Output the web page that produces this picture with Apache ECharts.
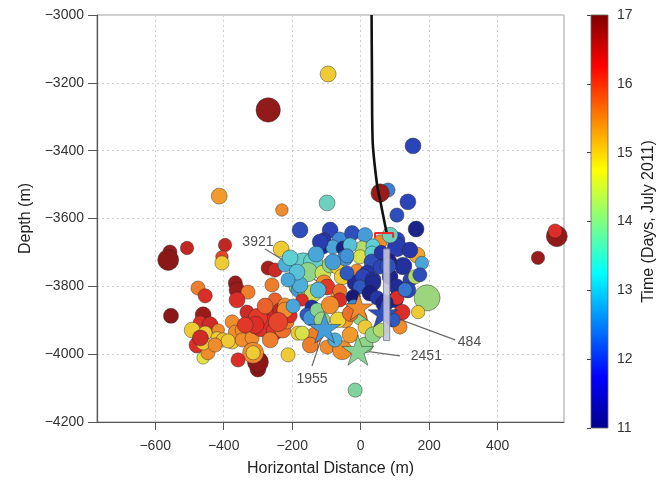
<!DOCTYPE html>
<html>
<head>
<meta charset="utf-8">
<script src="https://cdn.jsdelivr.net/npm/echarts@6/dist/echarts.min.js"></script>
<style>
  html, body { margin: 0; padding: 0; background: #ffffff; }
  #chart { width: 671px; height: 483px; }
</style>
</head>
<body>
<div id="chart"></div>
<script>
// Microseismic events: horizontal distance (m), depth (m), time (day of July 2011), relative magnitude
const eventX = [
  -270, -95, 153, -413, 80, 57, -98, 138, 106, 162, 573, 568, 518, -177, -230, -232, -16,
  -557, -562, -507, -396, -405, -405, -475, -454, -554, -460, -469, -440, -478, -460, -446,
  -492, -454, -460, -416, -419, -402, -375, -375, -366, -387, -468, -425,
  -366, -361, -329, -361, -332, -270, -250, -259, -250, -259, -346, -346, -317, -288, -250,
  -227, -215, -206, -300, -300, -314, -314, -358, -212, -300, -279, -236, -221,
  -308, -264, -221, -337, -241,
  -168, -139, -221, -192, -154, -110, -89, -69, -186, -183, -162, -139, -171, -197, -142,
  -157, -145, -127, -107, -98, -54, -66, -61, -61, -45, -133, -183, -171, -98, -54, -11,
  -206, -177, -124, -186, -212,
  -89, -66, -113, -31, -75, -147, 13,
  -89, -107, -61, -25, 13, 57, 106, -110, -81, -51, 4, 36, 106, 124, 144, 165, 179, 159, 194,
  -2, 33, -118, -45, 80, 138, 101, -16, 33, -81, -31, 86, 173, 144,
  19, 7, 36, 57, 86, 106, -40, -2, 36, 27, -22, 48, 106, 121, 168, 115, -2, 13, 36, 57, 95,
  -130, -40, 60, 80, 130, 70, -20, -30
];
const eventDepth = [
  -3280, -3174, -3386, -3534, -3516, -3525, -3554, -3551, -3590, -3631, -3652, -3637, -3716, -3634, -3575, -3690, -4106,
  -3699, -3722, -3687, -3678, -3713, -3731, -3805, -3828, -3887, -3884, -3908, -3913, -3973, -4011, -3996,
  -3929, -3938, -3967, -3929, -3952, -3958, -3964, -3905, -3935, -3961, -3952, -3973,
  -3790, -3811, -3817, -3840, -3876, -3746, -3752, -3796, -3840, -3890, -3929, -3958, -3952, -3913, -3932,
  -3929, -3905, -3887, -4044, -4023, -3996, -3996, -4017, -4002, -3893, -3858, -3870, -3855,
  -3914, -3958, -3870, -3914, -3905,
  -3737, -3728, -3737, -3772, -3758, -3761, -3737, -3743, -3802, -3811, -3820, -3820, -3840, -3858, -3861,
  -3884, -3893, -3870, -3790, -3802, -3772, -3831, -3814, -3840, -3899, -3943, -3938, -3938, -3979, -3988, -3752,
  -3716, -3796, -3811, -3758, -3781,
  -3855, -3899, -3899, -3943, -3958, -3973, -3973,
  -3634, -3663, -3663, -3643, -3649, -3669, -3663, -3684, -3684, -3687, -3687, -3681, -3684, -3740, -3781, -3708, -3731, -3772, -3834,
  -3713, -3702, -3669, -3716, -3728, -3811, -3840, -3790, -3728, -3728, -3678, -3649, -3766, -3693,
  -3761, -3772, -3781, -3743, -3772, -3802, -3761, -3802, -3790, -3820, -3831, -3834, -3834, -3876, -3876, -3920, -3893, -3920, -3943, -3929, -3899,
  -3705, -3710, -3700, -3740, -3810, -3850, -3860, -3880
];
const eventDay = [
  16.85, 15.0, 11.8, 15.5, 12.4, 16.8, 13.5, 11.8, 11.9, 11.3, 16.85, 16.3, 16.8, 11.9, 15.6, 15.0, 13.8,
  16.8, 16.9, 16.5, 16.5, 16.1, 15.0, 15.7, 16.3, 16.9, 16.8, 16.3, 16.4, 16.3, 14.7, 15.6,
  15.0, 15.0, 15.0, 15.6, 15.0, 15.1, 15.0, 15.6, 15.6, 15.0, 16.4, 15.6,
  16.8, 16.8, 15.7, 16.3, 16.4, 16.7, 16.4, 15.7, 15.9, 16.4, 15.6, 15.6, 15.6, 16.3, 16.2,
  15.8, 15.7, 16.3, 16.9, 16.9, 15.6, 15.0, 16.3, 15.0, 16.2, 15.9, 16.5, 15.6,
  16.3, 15.7, 15.6, 16.2, 16.1,
  13.4, 13.4, 12.9, 12.8, 14.0, 14.5, 14.0, 15.0, 13.8, 12.7, 13.9, 14.5, 16.3, 12.8, 11.5,
  12.0, 12.6, 13.9, 15.6, 16.2, 15.0, 15.5, 15.8, 16.3, 15.5, 15.7, 15.0, 14.6, 15.6, 15.6, 15.6,
  13.3, 12.9, 13.0, 13.1, 12.8,
  15.6, 14.9, 14.1, 15.5, 12.9, 15.7, 14.0,
  11.8, 11.6, 12.5, 11.9, 12.7, 15.6, 11.8, 11.4, 12.8, 11.3, 14.3, 13.3, 11.7, 11.5, 11.8, 15.4, 12.8, 14.3, 14.1,
  14.6, 13.3, 11.7, 12.6, 11.2, 11.8, 11.3, 11.4, 11.9, 12.7, 13.1, 13.5, 11.9, 11.6,
  11.6, 11.8, 11.5, 11.8, 11.3, 11.4, 12.0, 12.0, 11.4, 11.2, 11.1, 11.6, 16.3, 16.3, 15.0, 15.6, 14.0, 15.0, 14.0, 14.3, 12.0,
  12.8, 12.6, 11.6, 11.9, 12.3, 11.3, 12.5, 15.8
];
const eventMagnitude = [
  2.4, 1.4, 1.4, 1.4, 1.2, 1.7, 1.4, 1.4, 1.2, 1.4, 2.0, 1.2, 1.1, 1.4, 1.0, 1.4, 1.2,
  1.2, 2.0, 1.1, 1.1, 1.0, 1.2, 1.2, 1.2, 1.3, 1.4, 1.2, 1.4, 1.4, 1.0, 1.2,
  1.4, 1.2, 1.2, 1.0, 1.0, 1.2, 1.2, 1.2, 1.2, 1.2, 1.4, 1.2,
  1.2, 1.4, 1.2, 1.4, 1.2, 1.2, 1.2, 1.2, 1.2, 1.6, 1.2, 1.2, 1.2, 2.4, 1.6,
  1.4, 1.2, 1.2, 1.4, 2.0, 2.0, 1.2, 1.2, 1.2, 1.8, 1.4, 1.2, 1.2,
  1.6, 1.4, 1.4, 1.4, 1.8,
  2.4, 1.8, 1.2, 1.2, 1.8, 1.4, 1.4, 1.2, 1.4, 1.2, 1.2, 1.6, 1.0, 1.2, 1.2,
  1.2, 1.4, 1.2, 1.4, 1.4, 1.4, 1.2, 1.2, 1.2, 1.4, 1.4, 1.2, 1.2, 1.2, 1.8, 1.0,
  1.4, 1.4, 1.4, 1.4, 1.2,
  1.6, 1.4, 1.4, 1.4, 1.2, 1.4, 1.4,
  1.4, 1.2, 1.4, 1.3, 1.3, 1.2, 1.4, 1.2, 1.2, 1.2, 1.2, 1.2, 1.8, 1.6, 1.2, 1.4, 1.1, 1.2, 2.6,
  1.2, 1.2, 1.4, 1.4, 1.6, 1.4, 1.4, 1.4, 1.4, 1.4, 1.2, 1.4, 1.2, 1.4,
  1.4, 1.4, 1.4, 1.2, 1.4, 1.4, 1.2, 1.2, 1.4, 1.4, 1.2, 1.2, 1.2, 1.4, 1.1, 1.2, 1.2, 1.2, 1.4, 1.2, 1.2,
  1.4, 1.2, 1.2, 1.4, 1.2, 1.6, 1.2, 1.4
];

// Highlighted events, drawn as stars with their event numbers
const starIds = ['3921', '484', '1955', '2451'];
const starX = [-5, 65, -105, -8];
const starDepth = [-3861, -3879, -3923, -3988];
const starDay = [15.6, 11.9, 12.7, 13.9];
const starMagnitude = [2.8, 3.0, 3.3, 3.3];
// Where each event number is written, and where its leader line starts
const starLabelX = [-300, 318, -142, 192];
const starLabelDepth = [-3669, -3964, -4073, -4005];
const leaderX = [-279, 276, -142, 115];
const leaderDepth = [-3690, -3958, -4035, -4005];

// Well trajectory, packer and the treated interval
const wellX = [32, 33, 35, 48, 57, 76];
const wellDepth = [-3000, -3162, -3369, -3501, -3546, -3643];
const packerX = [42, 42, 95, 95];
const packerDepth = [-3657, -3643, -3643, -3657];
const intervalX = [67, 85];
const intervalDepth = [-3690, -3960];

// Axis ticks
const distanceTicks = [-600, -400, -200, 0, 200, 400];
const dayTicks = [11, 12, 13, 14, 15, 16, 17];

const FONT = 'Liberation Sans, Arial, Helvetica, sans-serif';
const minus = v => String(v).replace('-', '\u2212');
// marker diameter in pixels from relative magnitude
const markerSize = m => 4 + m * 8.5;

// jet colour map (day 11 .. day 17)
const jetBar = ['#00008f', '#0000ff', '#0080ff', '#00ffff', '#80ff80', '#ffff00', '#ff8000', '#ff0000', '#800000'];
const jetMarker = ['#14146e', '#2a3fb5', '#3c8ad8', '#5ccfd8', '#8fd488', '#ece43a', '#f39a2c', '#e2302a', '#7e1414'];

const starPath = 'path://M50,0 L61.8,35.3 L99,35.3 L68.9,57.1 L80.4,92.7 L50,70.7 L19.6,92.7 L31.1,57.1 L1,35.3 L38.2,35.3 Z';

const series = [];

// leader lines from event numbers to stars (under the markers)
starIds.forEach((id, i) => {
  series.push({
    type: 'line', xAxisIndex: 0, yAxisIndex: 0, z: 1, silent: true,
    symbol: 'none', animation: false,
    lineStyle: { color: '#6b6b6b', width: 1.2 },
    data: [[leaderX[i], leaderDepth[i]], [starX[i], starDepth[i]]]
  });
});

const circleIndex = series.length;
series.push({
  type: 'scatter', xAxisIndex: 0, yAxisIndex: 0, z: 2, animation: false,
  symbol: 'circle',
  symbolSize: v => markerSize(v[3]),
  itemStyle: { borderColor: 'rgba(40,40,40,0.55)', borderWidth: 0.8, opacity: 1 },
  data: eventX.map((x, i) => [x, eventDepth[i], eventDay[i], eventMagnitude[i]])
});

const starIndex = series.length;
series.push({
  type: 'scatter', xAxisIndex: 0, yAxisIndex: 0, z: 3, animation: false,
  symbol: starPath, symbolKeepAspect: true,
  symbolSize: v => markerSize(v[3]),
  itemStyle: { borderColor: 'rgba(40,40,40,0.6)', borderWidth: 0.8, opacity: 1 },
  data: starX.map((x, i) => [x, starDepth[i], starDay[i], starMagnitude[i]])
});

// well path
series.push({
  type: 'line', xAxisIndex: 0, yAxisIndex: 0, z: 4, silent: true, animation: false,
  symbol: 'none', smooth: 0.3,
  lineStyle: { color: '#111111', width: 2.6 },
  data: wellX.map((x, i) => [x, wellDepth[i]])
});
// packer
series.push({
  type: 'line', xAxisIndex: 0, yAxisIndex: 0, z: 4, silent: true, animation: false,
  symbol: 'none',
  lineStyle: { color: '#ee2a2a', width: 2 },
  data: packerX.map((x, i) => [x, packerDepth[i]])
});
// treated interval
series.push({
  type: 'custom', xAxisIndex: 0, yAxisIndex: 0, z: 4, silent: true, animation: false,
  data: [[intervalX[0], intervalDepth[0], intervalX[1], intervalDepth[1]]],
  encode: { x: [0, 2], y: [1, 3] },
  renderItem: (params, api) => {
    const a = api.coord([api.value(0), api.value(1)]);
    const b = api.coord([api.value(2), api.value(3)]);
    return {
      type: 'rect',
      shape: { x: a[0], y: a[1], width: b[0] - a[0], height: b[1] - a[1] },
      style: { fill: 'rgba(196,196,222,0.9)', stroke: '#8a8a9a', lineWidth: 1 }
    };
  }
});
// event numbers
series.push({
  type: 'scatter', xAxisIndex: 0, yAxisIndex: 0, z: 5, silent: true, animation: false,
  symbolSize: 0,
  label: {
    show: true, position: 'inside', color: '#222222', fontSize: 14, fontFamily: FONT,
    formatter: p => p.name
  },
  data: starIds.map((id, i) => ({ name: id, value: [starLabelX[i], starLabelDepth[i]] }))
});

// colour bar
series.push({
  type: 'custom', xAxisIndex: 1, yAxisIndex: 1, silent: true, animation: false,
  data: [[0, dayTicks[0], 1, dayTicks[dayTicks.length - 1]]],
  encode: { x: [0, 2], y: [1, 3] },
  renderItem: (params, api) => {
    const a = api.coord([api.value(0), api.value(3)]);
    const b = api.coord([api.value(2), api.value(1)]);
    const stops = jetBar.slice().reverse().map((c, k) => ({ offset: k / (jetBar.length - 1), color: c }));
    return {
      type: 'rect',
      shape: { x: a[0], y: a[1], width: b[0] - a[0], height: b[1] - a[1] },
      style: {
        fill: new echarts.graphic.LinearGradient(0, 0, 0, 1, stops),
        stroke: '#666666', lineWidth: 0.8
      }
    };
  }
});

const chart = echarts.init(document.getElementById('chart'), null, { renderer: 'canvas' });
chart.setOption({
  backgroundColor: '#ffffff',
  animation: false,
  grid: [
    { left: 97, top: 15, width: 467, height: 407, show: true, borderColor: '#a0a0a0', borderWidth: 1, backgroundColor: 'transparent' },
    { left: 591, top: 15, width: 17, height: 413, show: false }
  ],
  xAxis: [
    {
      type: 'value', gridIndex: 0, min: -770, max: 594,
      name: 'Horizontal Distance (m)', nameLocation: 'middle', nameGap: 39,
      nameTextStyle: { fontSize: 16, color: '#222222', fontFamily: FONT },
      axisLine: { show: true, onZero: false, lineStyle: { color: '#555555', width: 1.2 } },
      axisTick: { show: true, length: 8, customValues: distanceTicks, lineStyle: { color: '#555555' } },
      axisLabel: { customValues: distanceTicks, margin: 17, fontSize: 14, color: '#333333', fontFamily: FONT, formatter: minus },
      splitLine: { show: true, lineStyle: { color: '#cfcfcf', type: [2, 3], width: 1 } }
    },
    { type: 'value', gridIndex: 1, min: 0, max: 1, show: false }
  ],
  yAxis: [
    {
      type: 'value', gridIndex: 0, min: -4200, max: -3000, interval: 200,
      name: 'Depth (m)', nameLocation: 'middle', nameGap: 58,
      nameTextStyle: { fontSize: 16, color: '#222222', fontFamily: FONT },
      axisLine: { show: true, onZero: false, lineStyle: { color: '#555555', width: 1.2 } },
      axisTick: { show: true, length: 9, lineStyle: { color: '#555555' } },
      axisLabel: { margin: 13, fontSize: 14, color: '#333333', fontFamily: FONT, formatter: minus },
      splitLine: { show: true, lineStyle: { color: '#cfcfcf', type: [2, 3], width: 1 } }
    },
    {
      type: 'value', gridIndex: 1, min: 11, max: 17, interval: 1, position: 'right',
      name: 'Time (Days, July 2011)', nameLocation: 'middle', nameGap: 33,
      nameTextStyle: { fontSize: 16, color: '#222222', fontFamily: FONT },
      axisLine: { show: false },
      axisTick: { show: true, inside: true, length: 4, lineStyle: { color: '#444444' } },
      axisLabel: { margin: 9, fontSize: 14, color: '#333333', fontFamily: FONT },
      splitLine: { show: false }
    }
  ],
  visualMap: {
    type: 'continuous', show: false, min: 11, max: 17, dimension: 2,
    seriesIndex: [circleIndex, starIndex],
    inRange: { color: jetMarker }
  },
  series: series
});
</script>
</body>
</html>
